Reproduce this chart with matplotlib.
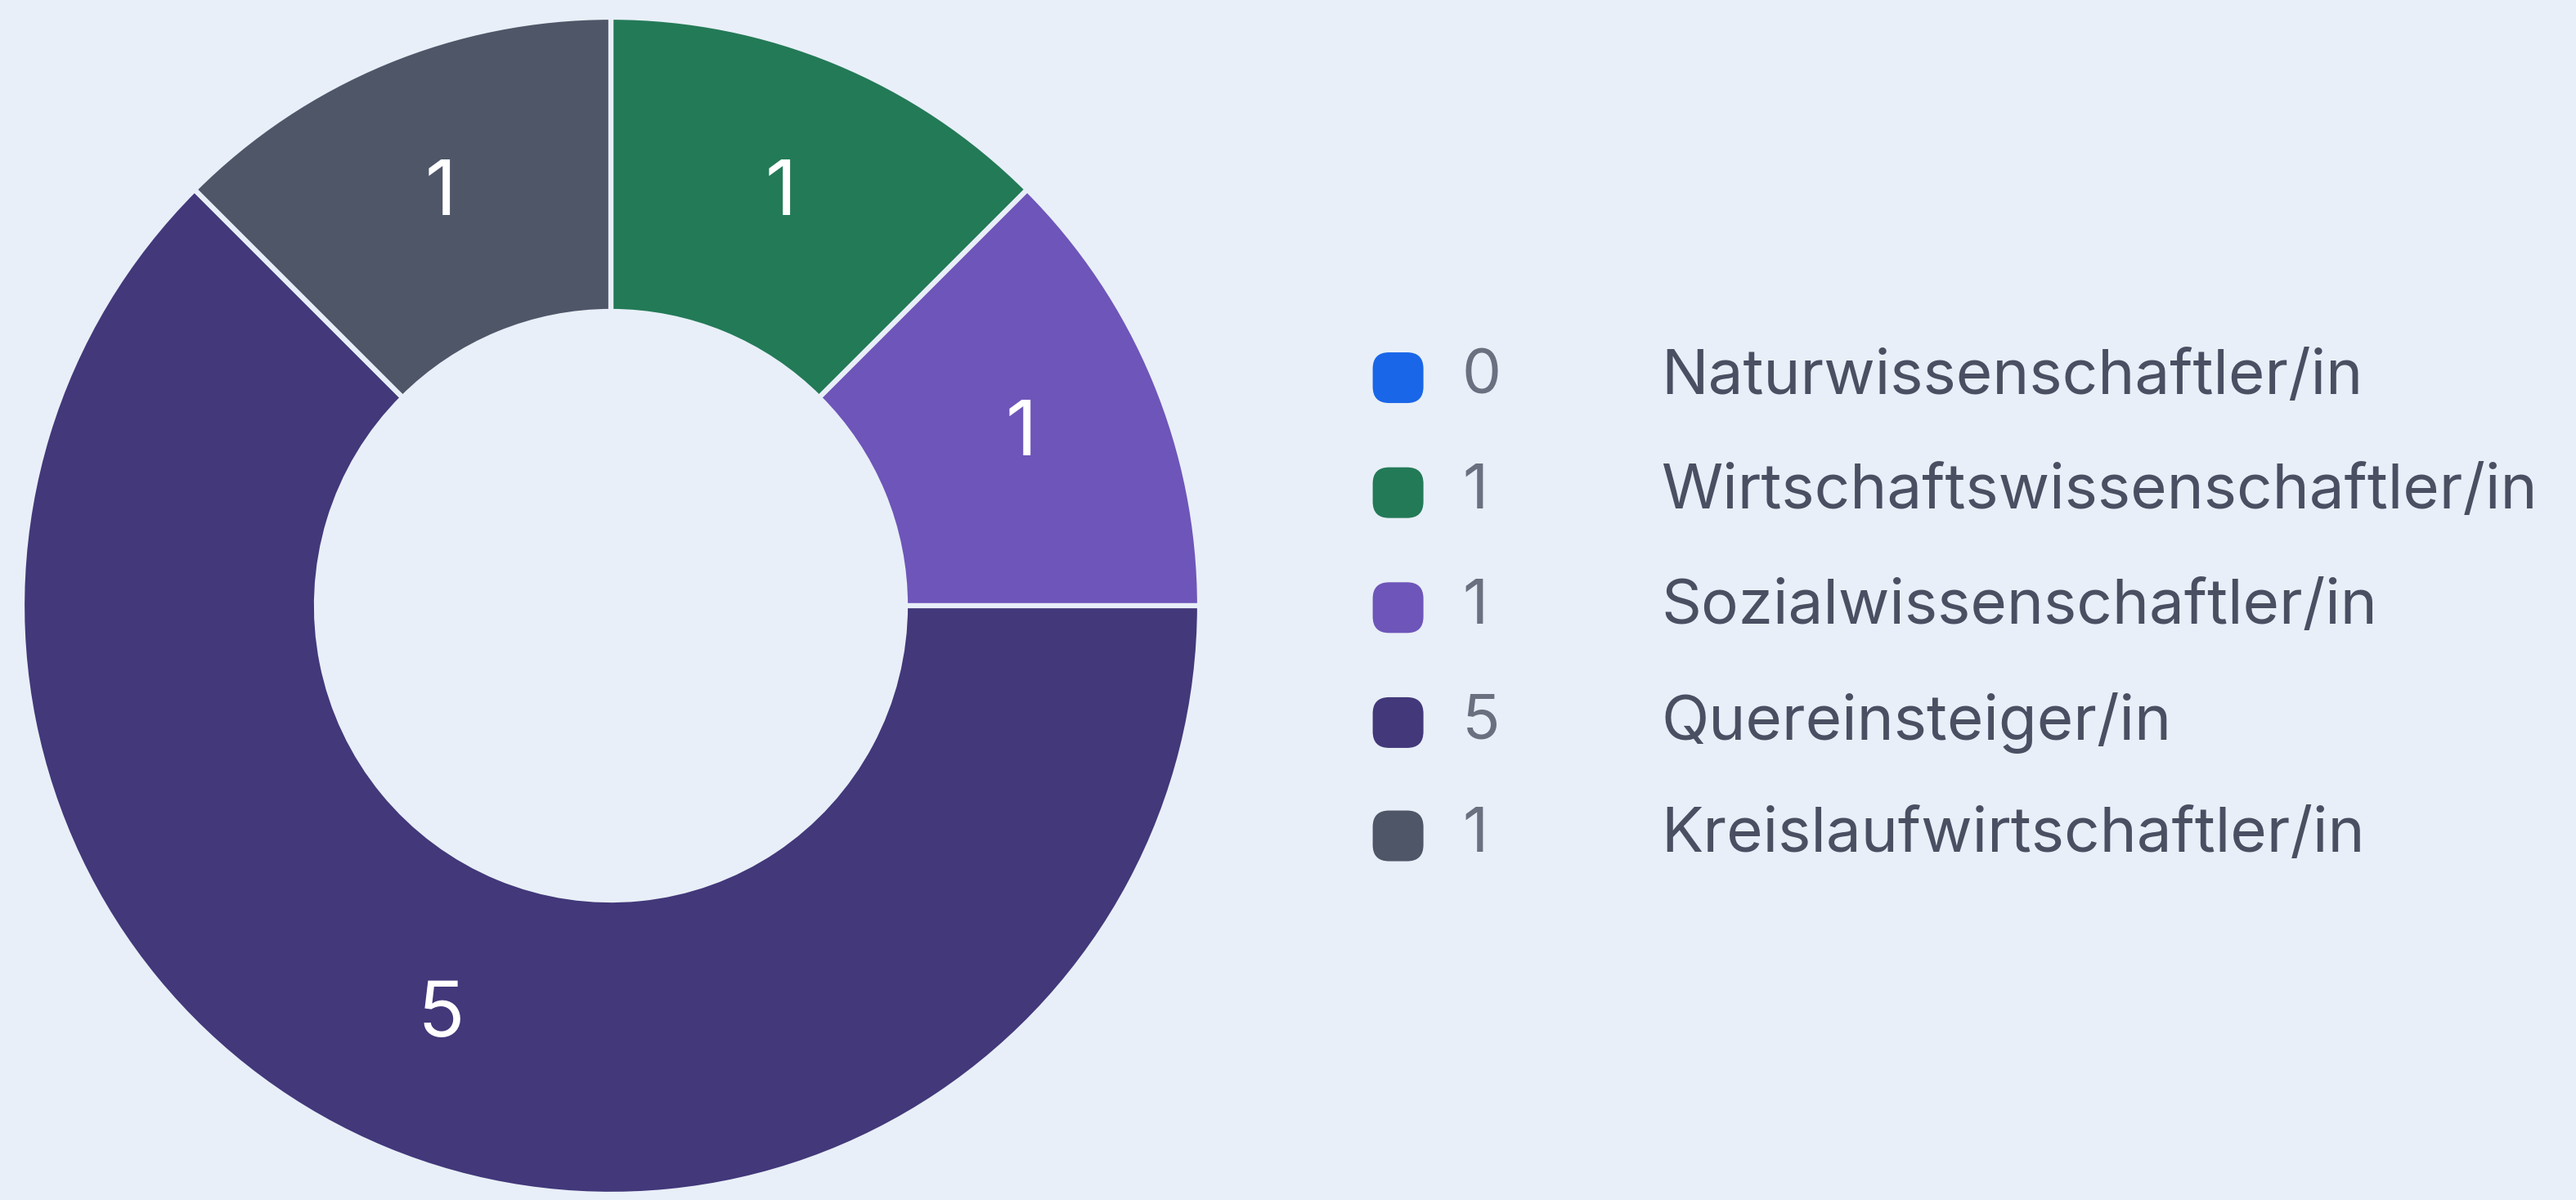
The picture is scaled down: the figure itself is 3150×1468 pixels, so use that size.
import matplotlib.pyplot as plt
from matplotlib.patches import FancyBboxPatch

# Data
categories = [
    "Naturwissenschaftler/in",
    "Wirtschaftswissenschaftler/in",
    "Sozialwissenschaftler/in",
    "Quereinsteiger/in",
    "Kreislaufwirtschaftler/in",
]
counts = [0, 1, 1, 5, 1]
colors = ["#1a66e8", "#237a57", "#6e55b9", "#42387a", "#4f5668"]

bg = "#e8eff8"
W, H = 3150, 1468
fig = plt.figure(figsize=(W / 100, H / 100), dpi=100, facecolor=bg)

# Donut chart (zero slices are not drawn)
cx, cy, r = 747, H - 741, 720
ax = fig.add_axes([(cx - r) / W, (cy - r) / H, 2 * r / W, 2 * r / H])
ax.set_facecolor(bg)
shown = [(v, c) for v, c in zip(counts, colors) if v > 0]
vals = [v for v, _ in shown]
cols = [c for _, c in shown]
wedges, texts = ax.pie(
    vals,
    colors=cols,
    startangle=90,
    counterclock=False,
    radius=1.0,
    labels=[str(v) for v in vals],
    labeldistance=0.755,
    wedgeprops=dict(width=0.5, edgecolor=bg, linewidth=4.5),
    textprops=dict(color="white", fontsize=68, family="Inter", ha="center", va="center"),
)
ax.set_xlim(-1.0, 1.0)
ax.set_ylim(-1.0, 1.0)
ax.set_aspect("equal")
ax.axis("off")

# Legend, drawn in pixel coordinates of an overlay axes
lg = fig.add_axes([0, 0, 1, 1])
lg.set_xlim(0, W)
lg.set_ylim(0, H)
lg.axis("off")
lg.patch.set_alpha(0)

row_y = [230, 300, 370, 440, 509]
scale = W / 1568
mw, mh = 62, 62
for i, (cat, n, col) in enumerate(zip(categories, counts, colors)):
    y = H - row_y[i] * scale
    mx = 851 * scale
    box = FancyBboxPatch(
        (mx - mw / 2, y - mh / 2), mw, mh,
        boxstyle="round,pad=0,rounding_size=20",
        facecolor=col, edgecolor="none",
    )
    lg.add_patch(box)
    lg.text(890 * scale, y, str(n), color="#6b7080", fontsize=55,
            family="Inter", ha="left", va="center")
    lg.text(1011 * scale, y, cat, color="#4a4f62", fontsize=55,
            family="Inter", ha="left", va="center")

fig.savefig("out.png", dpi=100, facecolor=bg)
